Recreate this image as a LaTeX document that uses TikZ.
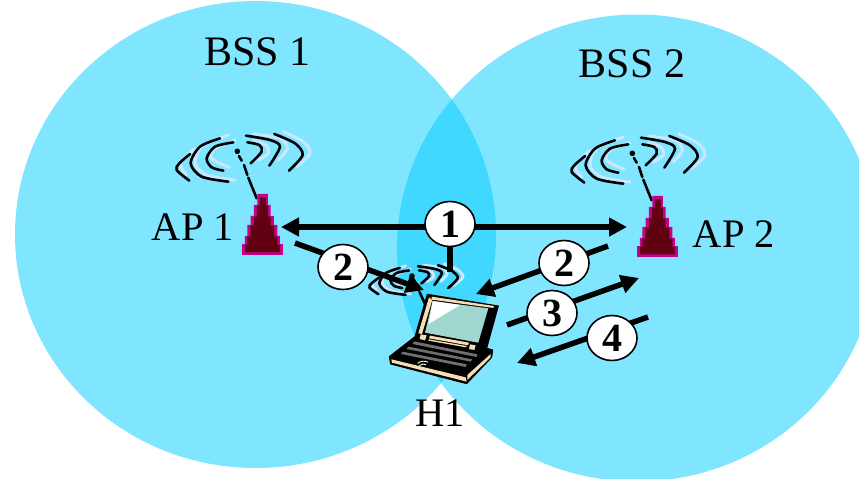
\documentclass[tikz,border=0pt]{standalone}
\usepackage{fontspec}
\setmainfont{Liberation Serif}
\usetikzlibrary{arrows.meta,shapes.geometric}
\definecolor{cellc}{HTML}{80E6FF}
\definecolor{lensc}{HTML}{40D8FF}
\definecolor{wavec}{HTML}{C8E8FF}
\definecolor{towerm}{HTML}{C4008C}
\definecolor{towerd}{HTML}{600010}
\definecolor{creamc}{HTML}{F5DEB3}
\definecolor{screenc}{HTML}{A0D8D0}
\definecolor{keyc}{HTML}{707070}
\pgfdeclarelayer{under}
\pgfdeclarelayer{wires}
\pgfsetlayers{under,wires,main}
\tikzset{
  lbl/.style={font=\fontsize{40.5}{46}\selectfont,inner sep=0pt},
  numc/.style={ellipse,draw=black,line width=1.6pt,fill=white,minimum width=50pt,minimum height=45pt,inner sep=0pt,font=\fontsize{40}{44}\selectfont\bfseries},
  conn/.style={line width=5.5pt,draw=black},
  head/.style={-{Triangle[length=18pt,width=18pt]}},
  headboth/.style={{Triangle[length=18pt,width=18pt]}-{Triangle[length=18pt,width=18pt]}},
  wblack/.style={draw=black,line width=2.6pt,line cap=round},
  wlight/.style={draw=wavec,line width=3pt,line cap=round},
  lapedge/.style={fill=black,draw=black,line width=1pt,line join=round},
}
\newcommand{\wifisym}{%
  \foreach \p in {
    {(165,115) (128,150) (122,170) (140,195)},
    {(265,75) (185,110) (165,160) (200,195) (285,210)},
    {(285,92) (225,115) (215,145) (268,172)},
    {(340,92) (378,105) (385,130) (355,150)},
    {(340,72) (420,85) (442,115) (415,150)},
    {(430,65) (490,95) (510,130) (470,170)}}
    {\draw[wlight] plot[smooth] coordinates \p;}
  \foreach \p in {
    {(150,132) (118,160) (110,180) (148,212)},
    {(240,85) (180,110) (152,160) (185,200) (265,215)},
    {(280,97) (225,110) (200,145) (215,172) (250,182)},
    {(322,97) (358,105) (365,125) (332,160)},
    {(318,77) (390,90) (420,110) (388,167)},
    {(403,72) (465,100) (488,135) (447,182)}}
    {\draw[wblack] plot[smooth] coordinates \p;}
  \fill (292,124) circle (2.8pt);
  \draw[wblack] (297,138) -- (305,152) (312,165) -- (322,195) (325,203) -- (350,265);
}
\newcommand{\towersym}{%
  \fill[towerm] (306,403) rectangle (428,434);
  \fill[towerm] (315,378) rectangle (420,403) (322,345) rectangle (412,378)
    (332,318) rectangle (402,345) (342,285) rectangle (392,318) (352,252) rectangle (384,285);
  \fill[towerd] (315,405) rectangle (420,427) (322,380) rectangle (412,405) (331,347) rectangle (403,380)
    (342,320) rectangle (392,347) (351,287) rectangle (384,320) (360,262) rectangle (378,287);
}
\begin{document}
\begin{tikzpicture}[x=1pt,y=-1pt]
\clip (0,0) rectangle (859,479);
\begin{pgfonlayer}{under}
\fill[white] (0,0) rectangle (859,479);
\fill[cellc] (255.5,234.5) ellipse [x radius=240.5pt,y radius=233.5pt];
\fill[cellc] (637,248) ellipse [x radius=240pt,y radius=233.5pt];
\begin{scope}
  \clip (255.5,234.5) ellipse [x radius=240.5pt,y radius=233.5pt];
  \fill[lensc] (637,248) ellipse [x radius=240pt,y radius=233.5pt];
\end{scope}
\begin{scope}[shift={(140,110)},x=.3333pt,y=-.3333pt]
  \wifisym\towersym
\end{scope}
\begin{scope}[shift={(535,112)},x=.3333pt,y=-.3333pt]
  \wifisym\towersym
\end{scope}
\begin{scope}[shift={(412,276)},x=.2333pt,y=-.207pt,shift={(-292,-124)}]
  \wifisym
\end{scope}
\end{pgfonlayer}
% labels
\node[lbl,font=\fontsize{42}{46}\selectfont] (bss1) at (257.5,52) {BSS 1};
\node[lbl,font=\fontsize{42}{46}\selectfont] (bss2) at (632,64) {BSS 2};
\node[lbl] (aplabel1) at (193,227) {AP 1};
\node[lbl] (aplabel2) at (734,234) {AP 2};
\node[lbl] (h1) at (440,413) {H1};
% numbered markers
\node[numc] (n1) at (450,224) {1};
\node[numc] (n2l) at (343,267) {2};
\node[numc] (n2r) at (564,263) {2};
\node[numc] (n3) at (552,313) {3};
\node[numc] (n4) at (612,338) {4};
% connector ends
\coordinate (e1) at (627,227);
\coordinate (ap1tip) at (281,227);
\coordinate (s1) at (450,272);
\coordinate (a2l) at (295,243);
\coordinate (t2l) at (424,290);
\coordinate (a2r) at (608,246);
\coordinate (t2r) at (476,294);
\coordinate (a3) at (507,325);
\coordinate (t3) at (639,278);
\coordinate (a4) at (648,317);
\coordinate (t4) at (517,363);
\begin{pgfonlayer}{wires}
\draw[conn,headboth] (ap1tip) -- (e1);
\draw[conn] (n1) -- (s1);
\draw[conn,head] (a2l) -- (t2l);
\draw[conn,head] (a2r) -- (t2r);
\draw[conn,head] (a3) -- (t3);
\draw[conn,head] (a4) -- (t4);
\end{pgfonlayer}
% laptop
\begin{scope}[shift={(350,200)},x=.3333pt,y=-.3333pt]
  \draw[black,line width=1.2pt] (205,270) -- (222,302);
  \path[lapedge] (232,283) -- (445,318) -- (410,445) -- (428,450) -- (425,472) -- (350,551) -- (122,492) -- (118,470) -- (195,410) -- cycle;
  \fill[creamc] (237,292) -- (205,400) -- (216,402) -- (247,300) -- cycle;
  \fill[creamc] (245,290) -- (432,318) -- (430,324) -- (245,299) -- cycle;
  \fill[screenc] (248,303) -- (415,325) -- (385,428) -- (225,398) -- cycle;
  \fill[white] (248,303) -- (330,315) -- (236,372) -- cycle;
  \fill[creamc] (212,403) -- (230,406) -- (225,421) -- (209,417) -- cycle;
  \fill[creamc] (360,433) -- (377,436) -- (373,450) -- (357,447) -- cycle;
  \fill[creamc] (240,407) -- (357,428) -- (354,436) -- (237,415) -- cycle;
  \fill[creamc] (236,418) -- (350,438) -- (348,442) -- (235,422) -- cycle;
  \fill[keyc] (192,424) -- (382,463) -- (380,471) -- (188,432) -- cycle;
  \fill[keyc] (175,440) -- (366,478) -- (363,485) -- (170,447) -- cycle;
  \fill[keyc] (158,455) -- (350,493) -- (347,501) -- (153,462) -- cycle;
  \fill[creamc] (124,478) -- (347,532) -- (350,545) -- (126,488) -- cycle;
  \fill[creamc] (352,525) -- (422,462) -- (422,472) -- (352,540) -- cycle;
  \draw[white,line width=.9pt] (203,490) .. controls (212,482) and (225,482) .. (234,487);
  \draw[white,line width=.9pt] (208,497) .. controls (214,491) and (222,491) .. (228,494);
\end{scope}
\end{tikzpicture}
\end{document}
